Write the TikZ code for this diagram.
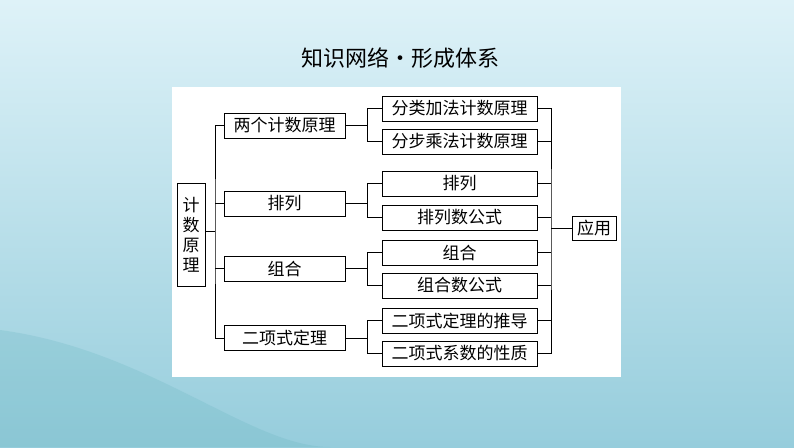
\documentclass[tikz,border=0pt]{standalone}
\usepackage{fontspec}
\newfontfamily\cjk{Noto Sans CJK SC}
\usetikzlibrary{positioning}
\definecolor{bgtop}{RGB}{222,242,248}
\definecolor{bgbot}{RGB}{150,205,220}
\tikzset{
  box/.style={draw, line width=0.9pt, fill=white, inner sep=0pt, font=\cjk\fontsize{17}{17}\selectfont},
  link/.style={line width=0.9pt},
}
\begin{document}
\begin{tikzpicture}[x=1pt,y=-1pt]
	%background and panel
	\shade[top color=bgtop, bottom color=bgbot] (0,0) rectangle (794,447);
	\fill[bgbot!70!teal, opacity=0.25] (0,330) .. controls (150,350) and (250,447) .. (330,447) -- (0,447) -- cycle;
	\useasboundingbox (0,0) rectangle (794,447);
	\node[font=\cjk\fontsize{22}{22}\selectfont] (title) at (400,58) {知识网络·形成体系};
	\fill[white] (172,87) rectangle (621,377);

	%root and apply
	\node[box, minimum width=28, minimum height=103, align=center, font=\cjk\fontsize{17}{20}\selectfont] (root) at (191,235) {计\\数\\原\\理};
	\node[box, minimum width=44, minimum height=24] (use) at (594,228) {应用};

	%level two
	\node[box, minimum width=121, minimum height=25] (two) at (284.5,125.5) {两个计数原理};
	\node[box, minimum width=121, minimum height=25] (perm) at (284.5,203.5) {排列};
	\node[box, minimum width=121, minimum height=25] (comb) at (284.5,268.5) {组合};
	\node[box, minimum width=121, minimum height=25] (bin) at (284.5,338) {二项式定理};

	%leaves
	\foreach \n/\y/\t in {a/108.5/分类加法计数原理, b/141.5/分步乘法计数原理,
	                      c/183.5/排列, d/217.5/排列数公式,
	                      e/252.5/组合, f/285.5/组合数公式,
	                      g/320.5/二项式定理的推导, h/353.5/二项式系数的性质}
		\node[box, minimum width=155, minimum height=25] (\n) at (459.5,\y) {\t};

	%root branches
	\coordinate (trunk) at (215,231);
	\draw[link] (root.east |- trunk) -- (trunk);
	\draw[link] (two.west) -| (trunk) |- (bin.west);
	\draw[link] (trunk |- perm.west) -- (perm.west);
	\draw[link] (trunk |- comb.west) -- (comb.west);

	%leaf branches
	\foreach \p/\u/\l in {two/a/b, perm/c/d, comb/e/f, bin/g/h}{
		\draw[link] (\p.east) -- ([xshift=22]\p.east);
		\draw[link] (\u.west) -| ([xshift=22]\p.east) |- (\l.west);
	}

	%to apply
	\coordinate (join) at (551,228);
	\draw[link] (a.east) -| (join) |- (h.east);
	\foreach \n in {b,c,d,e,f,g}
		\draw[link] (\n.east) -- (join |- \n.east);
	\draw[link] (join) -- (use.west);
\end{tikzpicture}
\end{document}
